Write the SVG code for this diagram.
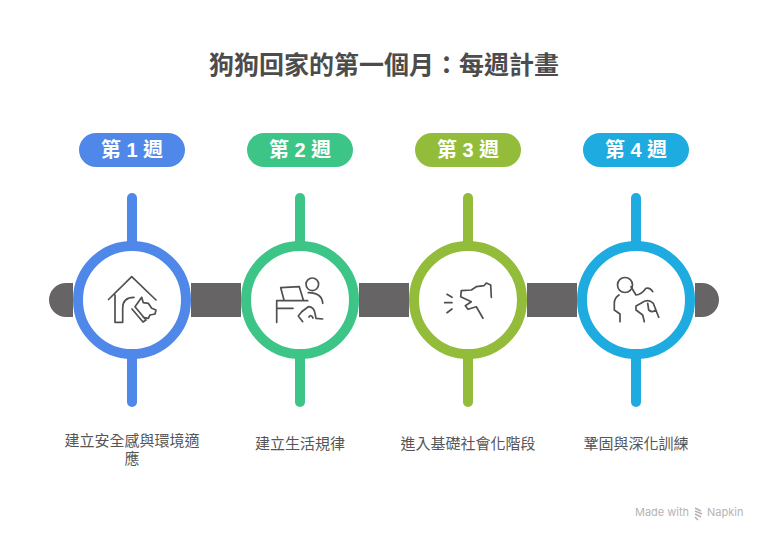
<svg xmlns="http://www.w3.org/2000/svg" width="768" height="540" viewBox="0 0 768 540">
<style>
.bar{fill:#666464}
.pill{stroke:none}
.stem{stroke-width:10;stroke-linecap:round;fill:none}
.ring{fill:#fff;stroke-width:10}
.ic{fill:none;stroke:#505050;stroke-width:1.7;stroke-linecap:round;stroke-linejoin:round}
.wk{font:bold 20px "Liberation Sans","Noto Sans CJK TC",sans-serif;fill:#fff;text-anchor:middle}
.lb{font:15px "Noto Sans CJK TC",sans-serif;fill:#565656;text-anchor:middle}
.ttl{font:bold 25px "Noto Sans CJK TC",sans-serif;fill:#4c4c4c;text-anchor:middle}
.ft{font:11px Inter,"Liberation Sans",sans-serif;fill:#b4b4b4}
</style>
<rect width="768" height="540" fill="#fff"/>
<text class="ttl" x="384" y="74">狗狗回家的第一個月：每週計畫</text>
<g id="connectors">
<path class="bar" d="M73 283H66a17 17 0 0 0 0 34H73ZM191 283H241V317H191ZM359 283H409V317H359ZM527 283H577V317H527ZM695 283H702a17 17 0 0 1 0 34H695Z"/>
</g>
<g id="week1">
<rect class="pill" x="79" y="133" width="106" height="34" rx="17" fill="#4f88e8"/>
<text class="wk" x="132" y="157">第 1 週</text>
<path class="stem" stroke="#4f88e8" d="M132 198V402"/>
<circle class="ring" cx="132" cy="300" r="54" stroke="#4f88e8"/>
<path class="ic" d="M108.500 299.500L131.700 276.700L156 300M115 295V322.300H122.700V308Q122.700 297.300 134 297.300M135 306.700L141.700 297.300L143.300 302.700L148.300 303.300L151.700 308.300L156 310L155 314L150 315L148.300 318.300L143.300 317.300M132 309L143 322L146 320L135 306.700"/>
<text class="lb" x="132" y="446">建立安全感與環境適<tspan x="132" dy="18">應</tspan></text>
</g>
<g id="week2">
<rect class="pill" x="247" y="133" width="106" height="34" rx="17" fill="#3dc588"/>
<text class="wk" x="300" y="157">第 2 週</text>
<path class="stem" stroke="#3dc588" d="M300 198V402"/>
<circle class="ring" cx="300" cy="300" r="54" stroke="#3dc588"/>
<circle class="ic" cx="312.300" cy="284.300" r="6.300"/>
<path class="ic" d="M280.700 287.700L299.300 286.700L303.300 300M284 300L280.700 287.700M276.700 300.700H307.700M276.700 300.700V322.300M276.700 308.300H293M308.300 292.700Q322 293 322.700 303.300M302.700 321.700L298.300 316L301.700 311.700L308.300 306.700Q314 307 315 313.300L316 318.300L322.700 319M309 317Q311 314 313 318"/>
<text class="lb" x="300" y="449">建立生活規律</text>
</g>
<g id="week3">
<rect class="pill" x="415" y="133" width="106" height="34" rx="17" fill="#92bc3a"/>
<text class="wk" x="468" y="157">第 3 週</text>
<path class="stem" stroke="#92bc3a" d="M468 198V402"/>
<circle class="ring" cx="468" cy="300" r="54" stroke="#92bc3a"/>
<path class="ic" d="M447 294.300L452 297.300M444.700 302.700H452M447 312.700L452 309M491.300 297.300L490.700 285L486.300 283L484 285.700L476.300 286.700L471.300 290L461.300 290.700L460.700 296.700L471.300 301.700L465.300 305.700L468 309.300L476.300 306.700L483 318.300"/>
<text class="lb" x="468" y="449">進入基礎社會化階段</text>
</g>
<g id="week4">
<rect class="pill" x="583" y="133" width="106" height="34" rx="17" fill="#1dabe0"/>
<text class="wk" x="636" y="157">第 4 週</text>
<path class="stem" stroke="#1dabe0" d="M636 198V402"/>
<circle class="ring" cx="636" cy="300" r="54" stroke="#1dabe0"/>
<circle class="ic" cx="625" cy="285" r="7.500"/>
<path class="ic" d="M619 295Q614.300 298 614.300 303.300V310L620 314V321.700M631 286.700L636 295Q641 295 646 288.300Q650 287 652.700 291.700M644.300 321.700L642.700 315L636 310V306L641 303.300Q648 298 653.300 303.300L658.700 317.300M647.700 303.300L648.700 310Q652.700 313.300 655.300 310"/>
<text class="lb" x="636" y="449">鞏固與深化訓練</text>
</g>
<g id="footer">
<text class="ft" x="635" y="516">Made with</text>
<path d="M695 508L701 511M695 511L702 514M695 514L701 517M695 517L698 520" fill="none" stroke="#b4b4b4" stroke-width="1.500"/>
<text class="ft" x="707" y="516">Napkin</text>
</g>
</svg>
